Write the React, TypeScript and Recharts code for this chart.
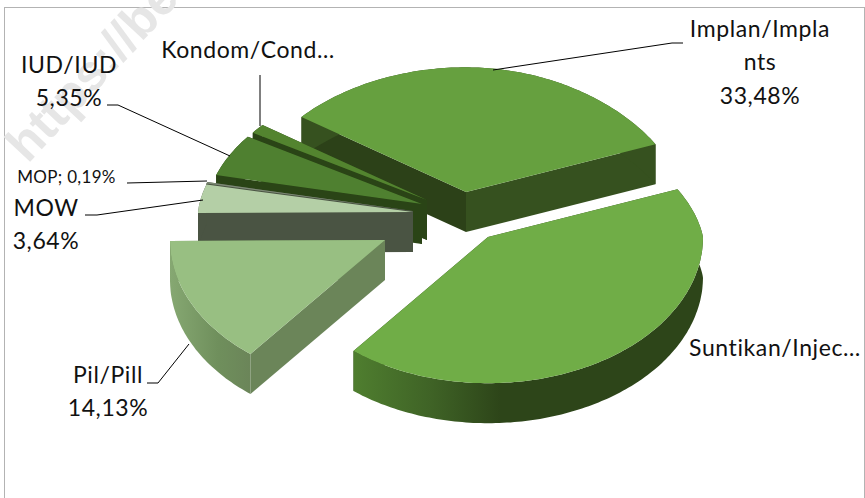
import { Pie, PieChart } from 'recharts'

// Drawn back to front, so the order runs counter-clockwise from the Implan slice
const categories = ['Implan/Implants', 'Kondom/Condom', 'IUD/IUD', 'MOP', 'MOW', 'Pil/Pill', 'Suntikan/Injection']
const shares = [33.48, 1.2, 5.35, 0.19, 3.64, 14.13, 42.01]

const chartData = categories.map((name, i) => ({ name, value: shares[i] }))

const FONT = 'Lato, sans-serif'
const START_ANGLE = 22.5
const DEPTH = 40
const FAR_RATIO = 0.58
const NEAR_RATIO = 0.68
const NARROWING_RIGHT = 0.12
const NARROWING_LEFT = 0.07

const sliceStyle: Record<string, any> = {
  'Implan/Implants': { dx: 36, dy: -23, top: '#66a03f', left: '#2c4118', right: '#36511f', arc: '#36511f' },
  'Kondom/Condom': { dx: -3, dy: -15, top: '#53842f', left: '#2a4416', right: '#2a4416', arc: '#2a4416' },
  'IUD/IUD': { dx: -8, dy: -11, top: '#4f8030', left: '#2a4416', right: '#243b12', arc: '#2a4416' },
  MOP: { dx: -17, dy: -4, top: '#7d8a75', left: '#4a5443', right: '#4a5443', arc: '#4a5443' },
  MOW: { dx: -17, dy: -3, top: '#b4cfa6', left: '#4a5443', right: '#4a5443', arc: '#4a5443' },
  'Pil/Pill': { dx: -45, dy: 25, top: '#98bf82', left: '#6b8559', right: '#6b8559', arc: 'url(#pilWall)' },
  'Suntikan/Injection': { dx: 58, dy: 22, top: '#70ad47', left: '#2d4519', right: '#2d4519', arc: 'url(#suntikWall)' }
}

const labelLayout: Record<string, any> = {
  'Implan/Implants': { x: 760, y: 37, lines: ['Implan/Impla', 'nts', '33,48%'], leader: '493,70 672,43 683,43' },
  'Kondom/Condom': { x: 248, y: 58, lines: ['Kondom/Cond…'], leader: '260,75 260,126' },
  'IUD/IUD': { x: 69, y: 73, lines: ['IUD/IUD', '5,35%'], leader: '107,105 118,105 230,156' },
  MOP: { x: 66.5, y: 183, size: 17, spacing: 0.3, lines: ['MOP; 0,19%'], leader: '127,183 207,181' },
  MOW: { x: 46, y: 216, lines: ['MOW', '3,64%'], leader: '85,215 97,215 203,200' },
  'Pil/Pill': { x: 108, y: 383, lines: ['Pil/Pill', '14,13%'], leader: '147,383 158,383 189,344' },
  'Suntikan/Injection': { x: 775, y: 356, lines: ['Suntikan/Injec…'] }
}

function project(cx: number, cy: number, r: number, angle: number) {
  const rad = (angle * Math.PI) / 180
  const s = Math.sin(rad)
  const c = Math.cos(rad)
  const narrowing = 1 - (c > 0 ? NARROWING_RIGHT : NARROWING_LEFT) * Math.max(0, s)
  return { x: cx + r * narrowing * c, y: cy - r * (s > 0 ? FAR_RATIO : NEAR_RATIO) * s }
}

function toPath(points: Array<{ x: number; y: number }>) {
  return 'M' + points.map((p) => `${p.x.toFixed(1)},${p.y.toFixed(1)}`).join('L') + 'Z'
}

function Slice3D(props: any) {
  const style = sliceStyle[props.name]
  const cx = props.cx + style.dx
  const cy = props.cy + style.dy
  const a0 = Math.min(props.startAngle, props.endAngle)
  const a1 = Math.max(props.startAngle, props.endAngle)

  const arc: Array<{ x: number; y: number }> = []
  const steps = Math.max(2, Math.ceil(a1 - a0))
  for (let i = 0; i <= steps; i++) arc.push(project(cx, cy, props.outerRadius, a0 + ((a1 - a0) * i) / steps))

  const apex = { x: cx, y: cy }
  const down = (p: { x: number; y: number }) => ({ x: p.x, y: p.y + DEPTH })
  const first = arc[0]
  const last = arc[arc.length - 1]

  return (
    <g>
      <path d={toPath([apex, first, down(first), down(apex)])} fill={style.right} />
      <path d={toPath([apex, last, down(last), down(apex)])} fill={style.left} />
      <path d={toPath([...arc, ...arc.map(down).reverse()])} fill={style.arc} />
      <path d={toPath([apex, ...arc])} fill={style.top} />
    </g>
  )
}

function SliceLabel(props: any) {
  const layout = labelLayout[props.name]
  const size = layout.size ?? 23
  const spacing = layout.spacing ?? 0.6
  return (
    <g>
      {layout.leader && <polyline points={layout.leader} fill="none" stroke="#000" strokeWidth={1} />}
      {layout.lines.map((line: string, i: number) => (
        <text
          key={line}
          x={layout.x}
          y={layout.y + i * 33.3}
          textAnchor="middle"
          fontFamily={FONT}
          fontSize={size}
          letterSpacing={spacing}
          fill="#111"
        >
          {line}
        </text>
      ))}
    </g>
  )
}

export default function App() {
  return (
    <div style={{ position: 'absolute', left: 0, top: 0, width: 865, height: 498, overflow: 'hidden', background: '#fff' }}>
      <div style={{ position: 'absolute', left: 4, top: 7, width: 859, height: 500, border: '1.5px solid #b3b3b3' }} />
      <div
        style={{
          position: 'absolute',
          left: -6,
          top: 133,
          fontFamily: 'Liberation Sans, sans-serif',
          fontWeight: 700,
          fontSize: 50,
          color: '#e6e6e6',
          transform: 'rotate(-47deg)',
          transformOrigin: '0 0',
          whiteSpace: 'nowrap'
        }}
      >
        https://be
      </div>
      <div style={{ position: 'absolute', left: 0, top: 0 }}>
        <PieChart width={865} height={498} margin={{ top: 0, right: 0, bottom: 0, left: 0 }}>
          <defs>
            <linearGradient id="pilWall" x1="0" y1="0" x2="1" y2="0">
              <stop offset="0%" stopColor="#86a872" />
              <stop offset="60%" stopColor="#6f8f5c" />
              <stop offset="100%" stopColor="#6b8559" />
            </linearGradient>
            <linearGradient id="suntikWall" x1="0" y1="0" x2="1" y2="0">
              <stop offset="0%" stopColor="#4f7e2f" />
              <stop offset="22%" stopColor="#3f6326" />
              <stop offset="42%" stopColor="#2d4519" />
              <stop offset="100%" stopColor="#2d4519" />
            </linearGradient>
          </defs>
          <Pie
            data={chartData}
            dataKey="value"
            nameKey="name"
            cx={430}
            cy={215}
            outerRadius={215}
            startAngle={START_ANGLE}
            endAngle={START_ANGLE + 360}
            stroke="none"
            shape={Slice3D}
            label={SliceLabel}
            labelLine={false}
            isAnimationActive={false}
          />
        </PieChart>
      </div>
    </div>
  )
}
